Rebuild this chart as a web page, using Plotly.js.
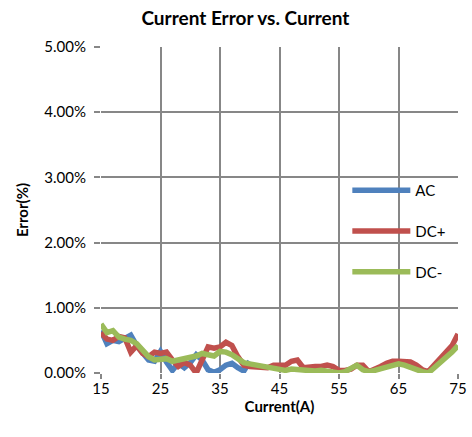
<!DOCTYPE html>
<html><head><meta charset="utf-8">
<script src="https://cdn.plot.ly/plotly-3.0.1.min.js"></script>
<style>html,body{margin:0;padding:0;background:#fff}#chart{width:472px;height:437px}</style>
</head><body><div id="chart"></div>
<script>
const acCurrent = [15,16,17,18,19,20,21,22,23,24,25,26,27,28,29,30,31,32,33,34,35,36,37,38,39,40];
const acError = [0.65,0.45,0.50,0.48,0.53,0.58,0.42,0.30,0.20,0.18,0.33,0.17,0.04,0.15,0.08,0.16,0.28,0.20,0.05,0.01,0.05,0.12,0.15,0.08,0.03,0.18];
const dcCurrent = [15,16,17,18,19,20,21,22,23,24,25,26,27,28,29,30,31,32,33,34,35,36,37,38,39,40,41,42,43,44,45,46,47,48,49,50,51,52,53,54,55,56,57,58,59,60,61,62,63,64,65,66,67,68,69,70,71,72,73,74,75];
const dcPlusError = [0.62,0.52,0.50,0.56,0.54,0.32,0.42,0.30,0.25,0.32,0.30,0.32,0.20,0.10,0.16,0.12,0.00,0.22,0.40,0.38,0.40,0.47,0.42,0.25,0.12,0.10,0.10,0.10,0.08,0.12,0.13,0.12,0.18,0.20,0.08,0.10,0.10,0.10,0.12,0.10,0.04,0.04,0.06,0.12,0.12,0.02,0.05,0.10,0.15,0.18,0.18,0.18,0.17,0.12,0.05,0.02,0.12,0.22,0.30,0.42,0.60];
const dcMinusError = [0.75,0.62,0.65,0.55,0.52,0.50,0.45,0.35,0.25,0.20,0.20,0.22,0.18,0.20,0.20,0.22,0.26,0.30,0.28,0.26,0.33,0.32,0.28,0.22,0.16,0.14,0.12,0.10,0.08,0.07,0.06,0.04,0.06,0.05,0.03,0.02,0.03,0.04,0.03,0.03,0.00,0.02,0.06,0.12,0.05,0.02,0.04,0.07,0.10,0.13,0.14,0.12,0.08,0.05,0.02,0.00,0.08,0.15,0.22,0.32,0.42];
const seriesNames = ["AC","DC+","DC-"];
const xTicks = [15,25,35,45,55,65,75];
const yTicks = [0,1,2,3,4,5];
const yTickText = ["0.00%","1.00%","2.00%","3.00%","4.00%","5.00%"];

const font = "Lato, 'Open Sans', sans-serif";
const traces = [
  {x: acCurrent, y: acError, name: seriesNames[0], type:'scatter', mode:'lines', line:{color:'#4F81BD', width:5.5}, legend:'legend'},
  {x: dcCurrent, y: dcPlusError, name: seriesNames[1], type:'scatter', mode:'lines', line:{color:'#C0504D', width:5.5}, legend:'legend2'},
  {x: dcCurrent, y: dcMinusError, name: seriesNames[2], type:'scatter', mode:'lines', line:{color:'#9BBB59', width:5.5}, legend:'legend3'}
];
const legBase = {bgcolor:'rgba(0,0,0,0)', font:{family:font, size:15, color:'#000'}, itemwidth:58, xanchor:'left', yanchor:'middle', x:0.69};
const layout = {
  width:472, height:437,
  margin:{l:101, r:14, t:47, b:64},
  paper_bgcolor:'#fff', plot_bgcolor:'#fff',
  title:{text:'<b>Current Error vs. Current</b>', font:{family:font, size:19, color:'#000'}, x:0.52, xanchor:'center', y:0.958, yanchor:'middle'},
  xaxis:{range:[15,75], tickvals:xTicks, ticktext:xTicks.map(String), showgrid:true, gridcolor:'#878787', gridwidth:2,
    zeroline:false, showline:false, ticks:'outside', ticklen:5, tickcolor:'#878787', tickwidth:2, ticklabelstandoff:-3,
    tickfont:{family:font, size:15, color:'#000'},
    title:{text:'<b>Current(A)</b>', font:{family:font, size:15, color:'#000'}, standoff:0}},
  yaxis:{range:[0,5], tickvals:yTicks, ticktext:yTickText, showgrid:true, gridcolor:'#878787', gridwidth:2,
    zeroline:false, showline:false, ticks:'outside', ticklen:6, tickcolor:'#878787', tickwidth:2, ticklabelstandoff:5,
    tickfont:{family:font, size:15, color:'#000'},
    title:{text:'<b>Error(%)</b>', font:{family:font, size:15, color:'#000'}, standoff:12}},
  showlegend:true,
  legend:Object.assign({}, legBase, {y:0.56}),
  legend2:Object.assign({}, legBase, {y:0.435}),
  legend3:Object.assign({}, legBase, {y:0.31})
};
Plotly.newPlot('chart', traces, layout, {staticPlot:true, displayModeBar:false});
</script></body></html>
